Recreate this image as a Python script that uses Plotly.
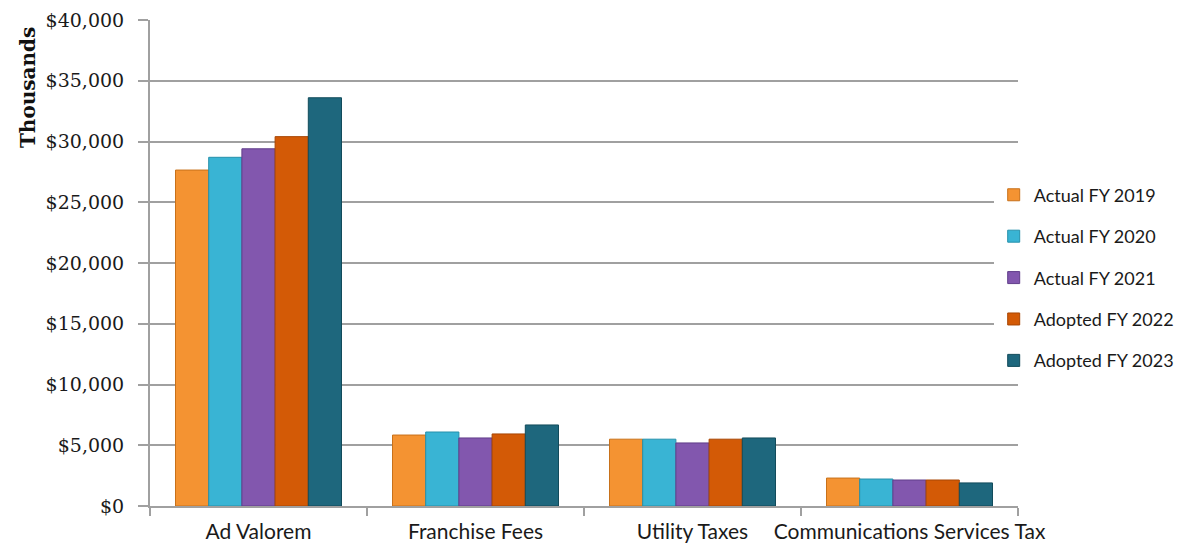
import plotly.graph_objects as go

categories = ["Ad Valorem", "Franchise Fees", "Utility Taxes", "Communications Services Tax"]
series_names = ["Actual FY 2019", "Actual FY 2020", "Actual FY 2021", "Adopted FY 2022", "Adopted FY 2023"]
fy2019 = [27650, 5840, 5500, 2300]
fy2020 = [28700, 6090, 5500, 2220]
fy2021 = [29400, 5600, 5190, 2140]
fy2022 = [30400, 5930, 5500, 2140]
fy2023 = [33600, 6670, 5600, 1900]
series_values = [fy2019, fy2020, fy2021, fy2022, fy2023]
colors = ["#F49332", "#39B4D4", "#8257AE", "#D35A06", "#1E677D"]
line_colors = ["#C8711A", "#2690AB", "#613E8A", "#A84604", "#124B5B"]
y_ticks = [0, 5000, 10000, 15000, 20000, 25000, 30000, 35000, 40000]
y_tick_labels = ["$0", "$5,000", "$10,000", "$15,000", "$20,000", "$25,000", "$30,000", "$35,000", "$40,000"]

font_family = "Lato, 'Open Sans', sans-serif"
serif_family = "'DejaVu Serif', 'Liberation Serif', serif"

fig = go.Figure()
for i, (name, vals) in enumerate(zip(series_names, series_values)):
    fig.add_trace(go.Bar(
        x=categories, y=vals, name=name,
        legendgroup=name,
        marker=dict(color=colors[i], line=dict(color=line_colors[i], width=1)),
    ))

fig.add_annotation(
    text="<b>Thousands</b>", textangle=-90,
    xref="paper", yref="paper", x=-0.1406, y=0.862,
    xanchor="center", yanchor="middle", showarrow=False,
    font=dict(family=serif_family, size=20, color="#111111"),
)

fig.update_layout(
    width=1199, height=545,
    barmode="group", bargap=0.235, bargroupgap=0,
    plot_bgcolor="white", paper_bgcolor="white",
    margin=dict(l=142, r=189, t=12, b=47, autoexpand=False),
    font=dict(family=font_family, size=18, color="#1a1a1a"),
    showlegend=True,
    legend=dict(x=0.972, y=0.47, xanchor="left", yanchor="middle",
                font=dict(size=18, family=font_family), tracegroupgap=15,
                itemwidth=30),
    xaxis=dict(showline=True, linecolor="#a0a0a0", linewidth=2,
               ticks="outside", tickson="boundaries", ticklen=8, tickcolor="#a0a0a0",
               tickwidth=2, tickfont=dict(size=21, family=font_family),
               tickangle=0, automargin=False, ticklabelstandoff=6),
    yaxis=dict(range=[0, 40000], tickvals=y_ticks, ticktext=y_tick_labels,
               showgrid=True, gridcolor="#a0a0a0", gridwidth=2,
               showline=True, linecolor="#a0a0a0", linewidth=2,
               ticks="outside", ticklen=10, tickcolor="#a0a0a0", tickwidth=2,
               zeroline=False, tickfont=dict(size=19, family=serif_family),
               ticklabelstandoff=10, automargin=False),
)

fig.write_html("out.html")
